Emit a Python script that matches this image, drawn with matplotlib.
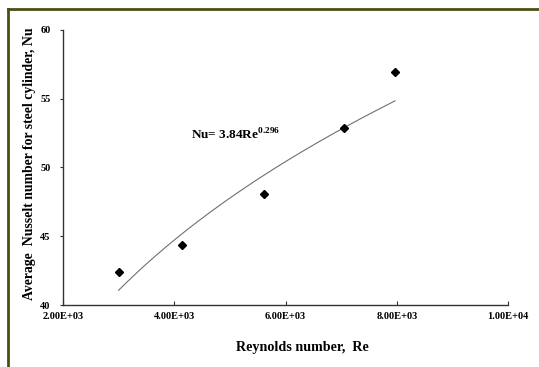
import numpy as np
import matplotlib.pyplot as plt
from matplotlib.lines import Line2D

re_vals = [3000, 4140, 5615, 7054, 7970]
nu_vals = [42.4, 44.35, 48.05, 52.85, 56.95]

# power-law trendline as printed on the chart
coef_a = 3.84
coef_b = 0.296

x_ticks = [2000, 4000, 6000, 8000, 10000]
x_tick_labels = ['2.00E+03', '4.00E+03', '6.00E+03', '8.00E+03', '1.00E+04']
y_ticks = [40, 45, 50, 55, 60]

plt.rcParams['font.family'] = ['Liberation Serif', 'DejaVu Serif']
plt.rcParams['mathtext.fontset'] = 'custom'
plt.rcParams['mathtext.rm'] = 'Liberation Serif'
plt.rcParams['mathtext.bf'] = 'Liberation Serif:bold'

fig = plt.figure(figsize=(5.39, 3.67), dpi=100)
ax = fig.add_axes([0.1169, 0.1689, 0.8256, 0.7494])

re_fit = np.linspace(min(re_vals), max(re_vals), 200)
ax.plot(re_fit, coef_a * re_fit ** coef_b, color='#707070', lw=0.8)
ax.plot(re_vals, nu_vals, linestyle='none', marker='D', color='black', markersize=4)

ax.set_xlim(2000, 10000)
ax.set_ylim(40, 60)
ax.set_xticks(x_ticks)
ax.set_xticklabels(x_tick_labels)
ax.set_yticks(y_ticks)
for lab in ax.get_xticklabels() + ax.get_yticklabels():
    lab.set_fontweight('bold')
    lab.set_fontsize(7.5)
ax.tick_params(axis='x', direction='in', length=3, pad=5, colors='#333333', labelcolor='black')
ax.tick_params(axis='y', direction='out', length=2, pad=7, colors='#333333', labelcolor='black')

for side in ['top', 'right']:
    ax.spines[side].set_visible(False)
for side in ['left', 'bottom']:
    ax.spines[side].set_color('#333333')
    ax.spines[side].set_linewidth(1.0)

ax.set_xlabel('Reynolds number,  Re', fontsize=10.2, fontweight='bold', va='center')
ax.xaxis.set_label_coords(0.537, -0.156)
ax.set_ylabel('Average  Nusselt number for steel cylinder, Nu', fontsize=9.9,
              fontweight='bold', va='center')
ax.yaxis.set_label_coords(-0.0764, 0.513)

ax.text(4300, 52.4, r'Nu= 3.84Re$^{\mathbf{0.296}}$', fontsize=9.5, fontweight='bold',
        ha='left', va='center')

# olive frame of the slide (top and left edges visible)
frame_col = '#4d4d16'
fig.add_artist(Line2D([8 / 539, 1], [1 - 8.5 / 367, 1 - 8.5 / 367], color=frame_col, lw=2,
                      transform=fig.transFigure))
fig.add_artist(Line2D([8 / 539, 8 / 539], [0, 1 - 8.5 / 367], color=frame_col, lw=2,
                      transform=fig.transFigure))

fig.savefig('out.png', dpi=100)
